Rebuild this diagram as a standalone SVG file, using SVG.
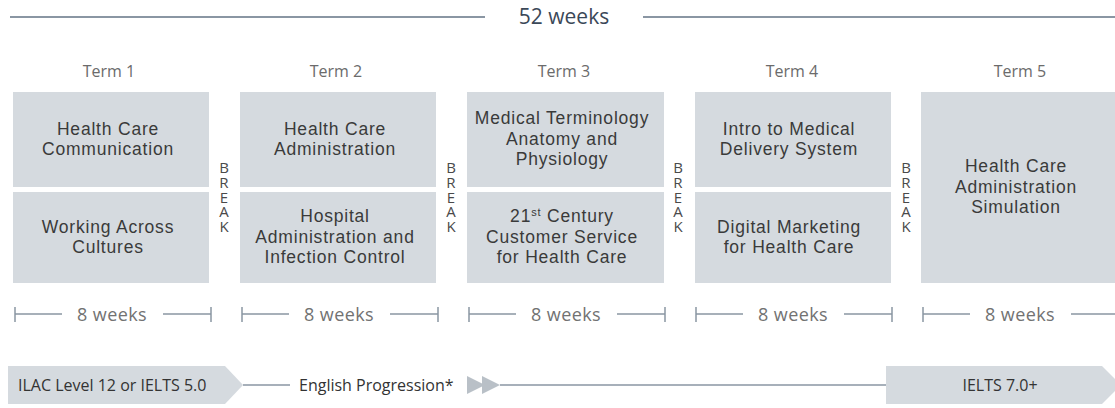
<svg xmlns="http://www.w3.org/2000/svg" width="1115" height="408" viewBox="0 0 1115 408">
<style>
.box{fill:#d5dadf}
.t{font-family:"Liberation Sans",Arial,sans-serif;font-size:17.5px;letter-spacing:0.8px;fill:#3a3a3a;text-anchor:middle}
.term{font-family:"Open Sans","Liberation Sans",sans-serif;font-size:16px;fill:#6b6b6b;text-anchor:middle}
.brk{font-family:"Open Sans","Liberation Sans",sans-serif;font-size:15px;fill:#4a4a4a;text-anchor:middle;writing-mode:vertical-rl;text-orientation:upright;letter-spacing:-5.4px}
.wk{font-family:"Open Sans","Liberation Sans",sans-serif;font-size:18px;fill:#727272;text-anchor:middle;letter-spacing:0.4px}
.hdr{font-family:"Open Sans","Liberation Sans",sans-serif;font-size:21px;fill:#3b4858;text-anchor:middle}
.eng{font-family:"Open Sans","Liberation Sans",sans-serif;font-size:16px;fill:#333}
.ln{stroke:#8a96a3;stroke-width:1.5;fill:none}
.lnh{stroke:#8a96a3;stroke-width:2;fill:none}
.tri{fill:#b9c0c7}
</style>

<g id="header">
  <text class="hdr" x="564" y="24">52 weeks</text>
</g>

<g id="connectors">
  <line class="lnh" x1="10" y1="17" x2="485" y2="17"/>
  <line class="lnh" x1="643" y1="17" x2="1115" y2="17"/>
  <path class="ln" d="M15,307V322M15,314H62M163,314H211M211,307V322"/>
  <path class="ln" d="M242,307V322M242,314H289M390,314H438M438,307V322"/>
  <path class="ln" d="M469,307V322M469,314H516M617,314H665M665,307V322"/>
  <path class="ln" d="M696,307V322M696,314H743M844,314H892M892,307V322"/>
  <path class="ln" d="M923,307V322M923,314H970M1071,314H1115"/>
  <line class="ln" x1="243" y1="385" x2="290" y2="385"/>
  <line class="ln" x1="500" y1="385" x2="886" y2="385"/>
</g>

<g id="weeks">
  <text class="wk" x="112" y="321">8 weeks</text>
  <text class="wk" x="339" y="321">8 weeks</text>
  <text class="wk" x="566" y="321">8 weeks</text>
  <text class="wk" x="793" y="321">8 weeks</text>
  <text class="wk" x="1020" y="321">8 weeks</text>
</g>

<g id="term1">
  <text class="term" x="109" y="77">Term 1</text>
  <rect class="box" x="13" y="92" width="196" height="95"/>
  <rect class="box" x="13" y="192" width="196" height="91"/>
  <text class="t" x="108" y="134.5">Health Care</text>
  <text class="t" x="108" y="155">Communication</text>
  <text class="t" x="108" y="232.5">Working Across</text>
  <text class="t" x="108" y="253">Cultures</text>
</g>

<g id="break1">
  <text class="brk" x="224" y="194">BREAK</text>
</g>

<g id="term2">
  <text class="term" x="336" y="77">Term 2</text>
  <rect class="box" x="240" y="92" width="196" height="95"/>
  <rect class="box" x="240" y="192" width="196" height="91"/>
  <text class="t" x="335" y="134.5">Health Care</text>
  <text class="t" x="335" y="155">Administration</text>
  <text class="t" x="335" y="222">Hospital</text>
  <text class="t" x="335" y="242.5">Administration and</text>
  <text class="t" x="335" y="263">Infection Control</text>
</g>

<g id="break2">
  <text class="brk" x="451" y="194">BREAK</text>
</g>

<g id="term3">
  <text class="term" x="564" y="77">Term 3</text>
  <rect class="box" x="467" y="92" width="197" height="95"/>
  <rect class="box" x="467" y="192" width="197" height="91"/>
  <text class="t" x="562" y="124">Medical Terminology</text>
  <text class="t" x="562" y="144.5">Anatomy and</text>
  <text class="t" x="562" y="165">Physiology</text>
  <text class="t" x="562" y="222">21<tspan font-size="11" dy="-6">st</tspan><tspan dy="6"> Century</tspan></text>
  <text class="t" x="562" y="242.5">Customer Service</text>
  <text class="t" x="562" y="263">for Health Care</text>
</g>

<g id="break3">
  <text class="brk" x="678" y="194">BREAK</text>
</g>

<g id="term4">
  <text class="term" x="792" y="77">Term 4</text>
  <rect class="box" x="695" y="92" width="196" height="95"/>
  <rect class="box" x="695" y="192" width="196" height="91"/>
  <text class="t" x="789" y="134.5">Intro to Medical</text>
  <text class="t" x="789" y="155">Delivery System</text>
  <text class="t" x="789" y="232.5">Digital Marketing</text>
  <text class="t" x="789" y="253">for Health Care</text>
</g>

<g id="break4">
  <text class="brk" x="906" y="194">BREAK</text>
</g>

<g id="term5">
  <text class="term" x="1020" y="77">Term 5</text>
  <rect class="box" x="921" y="92" width="196" height="191"/>
  <text class="t" x="1016" y="172">Health Care</text>
  <text class="t" x="1016" y="192.5">Administration</text>
  <text class="t" x="1016" y="213">Simulation</text>
</g>

<g id="start-level">
  <polygon class="box" points="8,366 225,366 243,385 225,404 8,404"/>
  <text class="eng" x="18" y="390.5">ILAC Level 12 or IELTS 5.0</text>
</g>

<g id="english-progression">
  <text class="eng" x="299" y="390.5">English Progression*</text>
  <polygon class="tri" points="467,376 485,385 467,394"/>
  <polygon class="tri" points="482,376 500,385 482,394"/>
</g>

<g id="end-level">
  <polygon class="box" points="886,366 1102,366 1121,385 1102,404 886,404"/>
  <text class="eng" x="1000" y="390.5" text-anchor="middle">IELTS 7.0+</text>
</g>
</svg>
